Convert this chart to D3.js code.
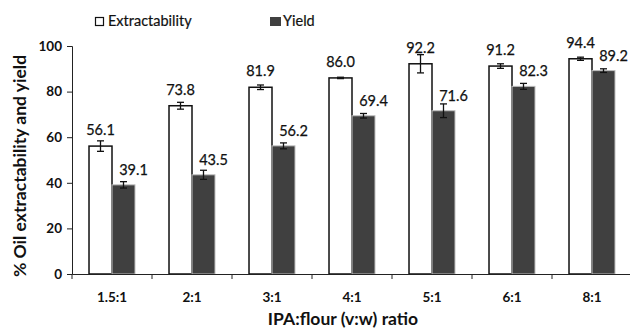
<!DOCTYPE html>
<html>
<head>
<meta charset="utf-8">
<script src="https://cdn.jsdelivr.net/npm/d3@7"></script>
<style>
  html, body { margin: 0; padding: 0; background: #fff; }
  svg text { font-family: Lato, "Open Sans", sans-serif; }
</style>
</head>
<body>
<svg id="chart" width="630" height="331"></svg>
<script>
// IPA:flour ratios and measured oil extractability / yield (%)
const ratios = ["1.5:1", "2:1", "3:1", "4:1", "5:1", "6:1", "8:1"];
const extractability = [56.1, 73.8, 81.9, 86.0, 92.2, 91.2, 94.4];
const extractabilityErr = [2.3, 1.5, 1.0, 0.3, 4.0, 1.0, 0.7];
const yieldValues = [39.1, 43.5, 56.2, 69.4, 71.6, 82.3, 89.2];
const yieldErr = [1.4, 2.0, 1.3, 1.0, 3.0, 1.3, 0.8];
const yTicks = [0, 20, 40, 60, 80, 100];

const svg = d3.select("#chart");
const margin = { left: 72, right: -2, top: 46, bottom: 57 };
const W = 630, H = 331;

const x = d3.scaleBand().domain(ratios)
  .range([margin.left, W - margin.right]).paddingInner(0).paddingOuter(0);
const y = d3.scaleLinear().domain([0, 100]).range([H - margin.bottom, margin.top]);

const inner = d3.scaleBand().domain(["ext", "yld"])
  .range([0, x.bandwidth()]).paddingInner(0).paddingOuter(0.74);

const rows = ratios.map((r, i) => ({
  r,
  ext: extractability[i], extErr: extractabilityErr[i],
  yld: yieldValues[i], yldErr: yieldErr[i]
}));

// bars
const g = svg.append("g");
g.selectAll("rect.ext").data(rows).enter().append("rect")
  .attr("class", "ext")
  .attr("x", d => x(d.r) + inner("ext"))
  .attr("y", d => y(d.ext))
  .attr("width", inner.bandwidth())
  .attr("height", d => y(0) - y(d.ext))
  .attr("fill", "#fff").attr("stroke", "#111").attr("stroke-width", 1.5);

g.selectAll("rect.yld").data(rows).enter().append("rect")
  .attr("class", "yld")
  .attr("x", d => x(d.r) + inner("yld"))
  .attr("y", d => y(d.yld))
  .attr("width", inner.bandwidth())
  .attr("height", d => y(0) - y(d.yld))
  .attr("fill", "#404040").attr("stroke", "#bdbdbd").attr("stroke-width", 1);

// error bars
function errorBars(key, errKey) {
  const cx = d => x(d.r) + inner(key) + inner.bandwidth() / 2;
  const eg = g.selectAll("g.err-" + key).data(rows).enter().append("g")
    .attr("stroke", "#111").attr("stroke-width", 1.3);
  eg.append("line").attr("x1", cx).attr("x2", cx)
    .attr("y1", d => y(d[key] - d[errKey])).attr("y2", d => y(d[key] + d[errKey]));
  eg.append("line").attr("x1", d => cx(d) - 3.5).attr("x2", d => cx(d) + 3.5)
    .attr("y1", d => y(d[key] + d[errKey])).attr("y2", d => y(d[key] + d[errKey]));
  eg.append("line").attr("x1", d => cx(d) - 3.5).attr("x2", d => cx(d) + 3.5)
    .attr("y1", d => y(d[key] - d[errKey])).attr("y2", d => y(d[key] - d[errKey]));
}
errorBars("ext", "extErr");
errorBars("yld", "yldErr");

// value labels
g.selectAll("text.lext").data(rows).enter().append("text")
  .attr("x", d => x(d.r) + inner("ext") + inner.bandwidth() / 2)
  .attr("y", d => y(d.ext) - 11)
  .attr("text-anchor", "middle")
  .attr("font-size", 14.5).attr("fill", "#111").attr("stroke", "#111").attr("stroke-width", 0.25)
  .text(d => d.ext.toFixed(1));

g.selectAll("text.lyld").data(rows).enter().append("text")
  .attr("x", d => x(d.r) + inner("yld") + inner.bandwidth() / 2 + 10)
  .attr("y", d => y(d.yld) - 10)
  .attr("text-anchor", "middle")
  .attr("font-size", 14.5).attr("fill", "#111").attr("stroke", "#111").attr("stroke-width", 0.25)
  .text(d => d.yld.toFixed(1));

// axes
const yAxis = svg.append("g")
  .attr("transform", `translate(${margin.left},0)`)
  .call(d3.axisLeft(y).tickValues(yTicks).tickSize(5).tickPadding(5).tickFormat(d3.format("d")));
yAxis.select(".domain").attr("stroke", "#222").attr("stroke-width", 1);
yAxis.selectAll(".tick line").attr("stroke", "#222");
yAxis.selectAll("text").attr("font-size", 13.5).attr("font-weight", "bold").attr("fill", "#111")
  .style("font-family", "Lato, sans-serif");

const xAxis = svg.append("g")
  .attr("transform", `translate(0,${y(0)})`)
  .call(d3.axisBottom(x).tickSize(0).tickPadding(18));
xAxis.select(".domain").attr("stroke", "#222").attr("stroke-width", 1);
xAxis.selectAll("text").attr("font-size", 13.5).attr("font-weight", "bold").attr("fill", "#111")
  .style("font-family", "Lato, sans-serif");
// tick marks sit on category boundaries
xAxis.selectAll("line.bound").data(ratios.concat(["end"])).enter().append("line")
  .attr("class", "bound")
  .attr("x1", (d, i) => margin.left + i * x.bandwidth())
  .attr("x2", (d, i) => margin.left + i * x.bandwidth())
  .attr("y1", 0).attr("y2", 5).attr("stroke", "#222");

// axis titles
svg.append("text")
  .attr("transform", `translate(26,${(y(0) + y(100)) / 2 + 6}) rotate(-90)`)
  .attr("text-anchor", "middle").attr("font-size", 17.5).attr("font-weight", "bold").attr("fill", "#111")
  .text("% Oil extractability and yield");
svg.append("text")
  .attr("x", 343).attr("y", 325)
  .attr("text-anchor", "middle").attr("font-size", 17.5).attr("font-weight", "bold").attr("fill", "#111")
  .text("IPA:flour (v:w) ratio");

// legend
const leg = svg.append("g");
leg.append("rect").attr("x", 95.5).attr("y", 17.5).attr("width", 8).attr("height", 8)
  .attr("fill", "#fff").attr("stroke", "#111").attr("stroke-width", 1.2);
leg.append("text").attr("x", 108).attr("y", 25.5).attr("font-size", 14.5).attr("fill", "#111")
  .attr("stroke", "#111").attr("stroke-width", 0.2)
  .text("Extractability");
leg.append("rect").attr("x", 270).attr("y", 17).attr("width", 11).attr("height", 9)
  .attr("fill", "#404040");
leg.append("text").attr("x", 283).attr("y", 25.5).attr("font-size", 14.5).attr("fill", "#111")
  .attr("stroke", "#111").attr("stroke-width", 0.2)
  .text("Yield");
</script>
</body>
</html>
